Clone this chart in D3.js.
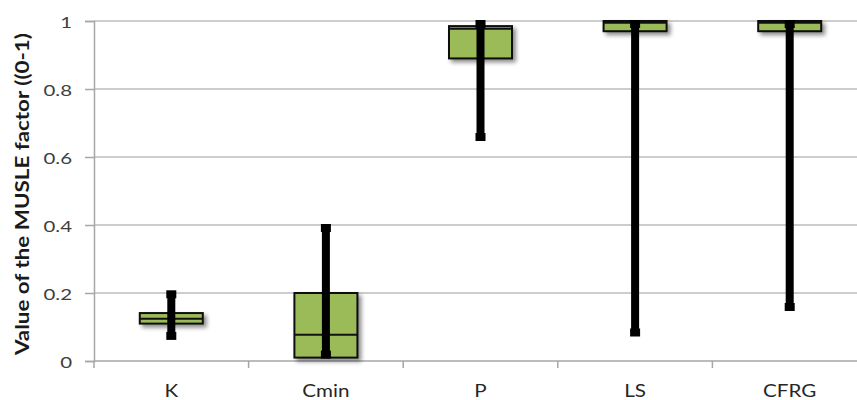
<!DOCTYPE html>
<html><head><meta charset="utf-8">
<script src="https://cdn.jsdelivr.net/npm/d3@7"></script>
<style>body{margin:0;background:#fff}svg{display:block}</style>
</head><body>
<svg id="c" width="857" height="400"></svg>
<script>
const categories = ["K", "Cmin", "P", "LS", "CFRG"];
const minValues = [0.065, 0.01, 0.65, 0.075, 0.15];
const q1Values = [0.11, 0.01, 0.89, 0.97, 0.97];
const medianValues = [0.124, 0.077, 0.977, 0.995, 0.995];
const q3Values = [0.141, 0.2, 0.985, 1.0, 1.0];
const maxValues = [0.205, 0.4, 1.0, 1.0, 1.0];
const yTicks = [0, 0.2, 0.4, 0.6, 0.8, 1];

const data = categories.map((c, i) => ({
  cat: c, min: minValues[i], q1: q1Values[i], med: medianValues[i], q3: q3Values[i], max: maxValues[i]
}));

const FONT = "Lato, 'Open Sans', sans-serif";
const svg = d3.select("#c");
const x = d3.scaleBand().domain(categories).range([94, 867]).padding(0);
const y = d3.scaleLinear().domain([0, 1]).range([361, 21]);

const defs = svg.append("defs");
const f = defs.append("filter").attr("id", "sh").attr("x", "-20%").attr("y", "-50%").attr("width", "150%").attr("height", "250%");
f.append("feDropShadow").attr("dx", 3).attr("dy", 3).attr("stdDeviation", 2).attr("flood-color", "#000").attr("flood-opacity", 0.45);

// gridlines
svg.append("g").selectAll("line").data(yTicks.filter(d => d > 0)).join("line")
  .attr("x1", 94).attr("x2", 857)
  .attr("y1", d => y(d)).attr("y2", d => y(d))
  .attr("stroke", "#bdbdbd").attr("stroke-width", 1.5);

// y axis
const yAxis = svg.append("g").attr("transform", "translate(94,0)")
  .call(d3.axisLeft(y).tickValues(yTicks).tickFormat(d3.format("~g")).tickSize(9).tickPadding(13));
yAxis.select(".domain").attr("stroke", "#a6a6a6").attr("stroke-width", 1.5);
yAxis.selectAll(".tick line").attr("stroke", "#a6a6a6").attr("stroke-width", 1.5);
yAxis.selectAll(".tick text")
  .attr("x", 0).attr("dy", "0.42em")
  .attr("transform", "translate(-22,0) scale(1.32,1)")
  .attr("font-family", FONT).attr("font-size", 15.5).attr("fill", "#404040");

// x axis
const xAxis = svg.append("g").attr("transform", "translate(0,361)")
  .call(d3.axisBottom(x).tickSize(0).tickPadding(0));
xAxis.select(".domain").remove();
xAxis.selectAll(".tick text").attr("dy", null).attr("y", 36)
  .attr("transform", "scale(1.25,1)")
  .attr("font-family", FONT).attr("font-size", 16.5).attr("fill", "#262626");
svg.append("line").attr("x1", 94).attr("x2", 857).attr("y1", 361).attr("y2", 361)
  .attr("stroke", "#a6a6a6").attr("stroke-width", 1.5);
const bounds = categories.slice(1).map(c => x(c)).concat([x(categories[0])]);
svg.append("g").selectAll("line").data(bounds).join("line")
  .attr("x1", d => d).attr("x2", d => d).attr("y1", 361).attr("y2", 368)
  .attr("stroke", "#a6a6a6").attr("stroke-width", 1.5);

// y label
svg.append("text")
  .attr("transform", `translate(29,${y(0.5) + 3}) rotate(-90)`)
  .attr("text-anchor", "middle")
  .attr("font-family", FONT)
  .attr("font-weight", "bold").attr("font-size", 19).attr("fill", "#1a1a1a")
  .attr("textLength", 322).attr("lengthAdjust", "spacingAndGlyphs")
  .text("Value of the MUSLE factor ((0-1)");

const bw = 63;
const g = svg.append("g").selectAll("g").data(data).join("g")
  .attr("transform", d => `translate(${x(d.cat) + x.bandwidth() / 2},0)`);

// boxes
g.append("rect")
  .attr("x", -bw / 2).attr("width", bw)
  .attr("y", d => y(d.q3)).attr("height", d => Math.max(y(d.q1) - y(d.q3), 0))
  .attr("fill", "#9bbb59").attr("stroke", "#111").attr("stroke-width", 2)
  .attr("filter", "url(#sh)");
// median
g.append("line")
  .attr("x1", -bw / 2).attr("x2", bw / 2)
  .attr("y1", d => y(d.med)).attr("y2", d => y(d.med))
  .attr("stroke", "#111").attr("stroke-width", 2);
// whisker
g.append("rect")
  .attr("x", -4).attr("width", 8)
  .attr("y", d => y(d.max)).attr("height", d => y(d.min) - y(d.max))
  .attr("fill", "#000");
// caps
g.append("rect").attr("x", -5).attr("width", 10)
  .attr("y", d => y(d.max) - 1).attr("height", 8).attr("fill", "#000");
g.append("rect").attr("x", -5).attr("width", 10)
  .attr("y", d => y(d.min) - 7).attr("height", 8).attr("fill", "#000");
</script>
</body></html>
